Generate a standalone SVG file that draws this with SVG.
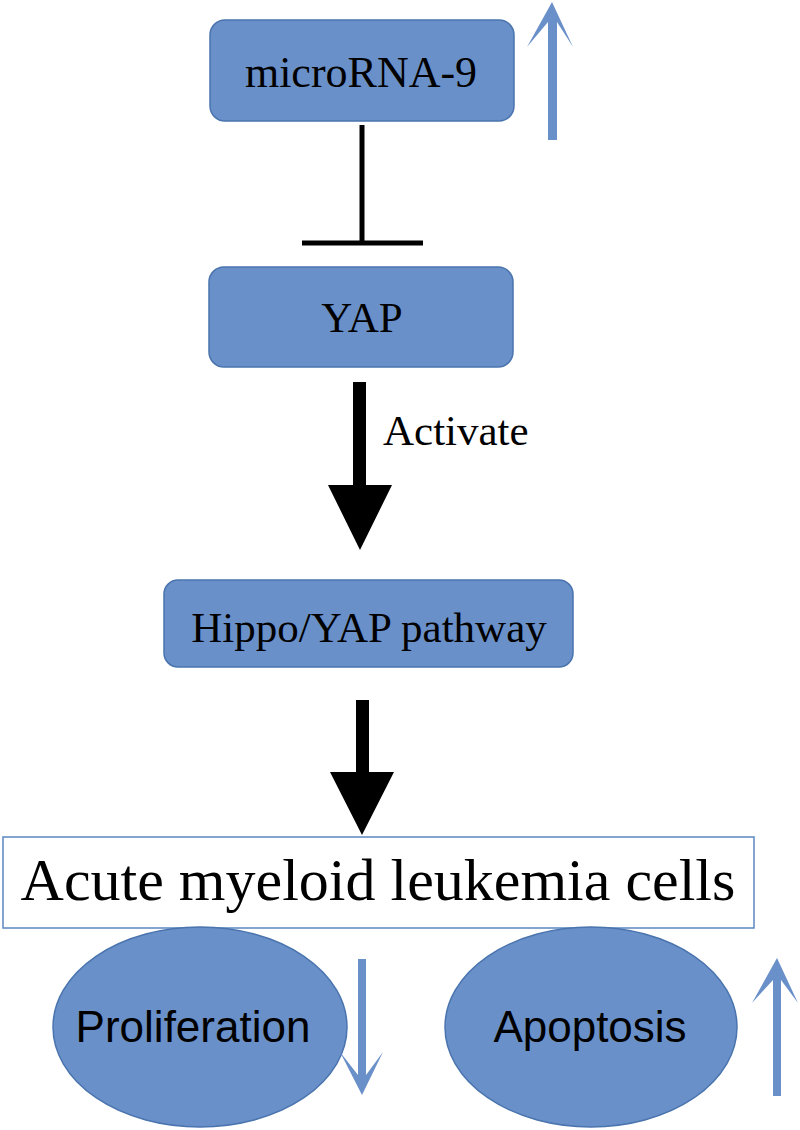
<svg xmlns="http://www.w3.org/2000/svg" width="800" height="1130" viewBox="0 0 800 1130">
<style>
.box{fill:#6a90c9;stroke:#4a74ae;stroke-width:1.5}
.serif{font-family:"Liberation Serif","Times New Roman",serif;fill:#000}
.sans{font-family:"Liberation Sans",Arial,sans-serif;fill:#000}
.blk{fill:#000}
.blu{fill:#6a90c9}
</style>
<rect width="800" height="1130" fill="#fff"/>
<g id="microRNA9">
<rect class="box" x="210" y="20" width="304" height="101" rx="15"/>
<text class="serif" x="361" y="87" font-size="44" text-anchor="middle">microRNA-9</text>
</g>
<g id="yap">
<rect class="box" x="209" y="267" width="304" height="100" rx="15"/>
<text class="serif" x="362" y="332" font-size="43" text-anchor="middle">YAP</text>
</g>
<g id="hippo">
<rect class="box" x="164" y="580" width="409" height="87" rx="14"/>
<text class="serif" x="369" y="642" font-size="43" text-anchor="middle">Hippo/YAP pathway</text>
</g>
<g id="aml">
<rect x="3" y="837" width="751" height="91" fill="#fff" stroke="#5b87c0" stroke-width="1.5"/>
<text class="serif" x="378" y="900" font-size="60" text-anchor="middle">Acute myeloid leukemia cells</text>
</g>
<g id="proliferation">
<ellipse class="box" cx="200" cy="1027" rx="147" ry="100"/>
<text class="sans" x="193" y="1042" font-size="44" text-anchor="middle">Proliferation</text>
</g>
<g id="apoptosis">
<ellipse class="box" cx="591" cy="1027" rx="146" ry="100"/>
<text class="sans" x="590" y="1042" font-size="44" text-anchor="middle">Apoptosis</text>
</g>
<g id="connectors">
<line x1="362" y1="125" x2="362" y2="243" stroke="#000" stroke-width="5"/>
<line x1="302" y1="243" x2="423" y2="243" stroke="#000" stroke-width="5"/>
<polygon class="blk" points="353,382 366,382 366,485 392,485 360,550 328,485 353,485"/>
<text class="serif" x="383" y="445" font-size="43">Activate</text>
<polygon class="blk" points="356,700 369,700 369,772 394,772 362,835 330,772 356,772"/>
<polygon class="blu" points="548,140 557,140 557,22 573,47 552,2 527,47 548,22"/>
<polygon class="blu" points="358,959 366,959 366,1075 383,1052 362,1095 340,1052 358,1075"/>
<polygon class="blu" points="773,1096 781,1096 781,980 798,1003 777,958 752,1003 773,980"/>
</g>
</svg>
